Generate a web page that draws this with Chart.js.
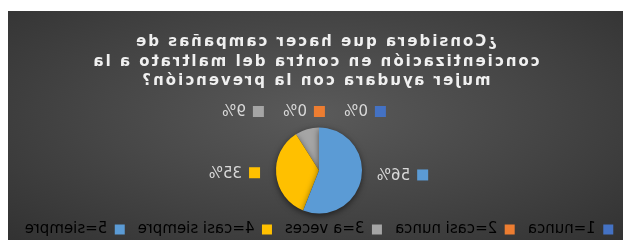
<!DOCTYPE html>
<html>
<head>
<meta charset="utf-8">
<script src="https://cdn.jsdelivr.net/npm/chart.js@4"></script>
<style>
  body { margin: 0; background: #fff; width: 623px; height: 240px; overflow: hidden; }
  #wrap {
    position: absolute; left: 8px; top: 11px; width: 615px; height: 229px; overflow: hidden;
    background: radial-gradient(ellipse at 50% 45%, #5a5a5a 0%, #484848 45%, #323232 100%);
    transform: scaleX(-1);
  }
  #titulo {
    position: absolute; left: 0; right: 0; top: 21px;
    text-align: center; color: #f0f0f0;
    font: bold 15px 'DejaVu Sans', sans-serif; letter-spacing: 2px; line-height: 19.5px;
  }
  #grafico { position: absolute; left: -10px; top: 0; }
</style>
</head>
<body>
<div id="wrap">
  <div id="titulo">¿Considera que hacer campañas de<br>concientización en contra del maltrato a la<br>mujer ayudara con la prevención?</div>
  <canvas id="grafico" width="635" height="236"></canvas>
</div>
<script>
const categorias = ['1=nunca', '2=casi nunca', '3=a veces', '4=casi siempre', '5=siempre'];
const porcentajes = [0, 0, 9, 35, 56];
const colores = ['#4472c4', '#ed7d31', '#a5a5a5', '#ffc000', '#5b9bd5'];

const TXT = '#d9d9d9';
const FONT = "'DejaVu Sans', sans-serif";

// etiquetas con la clave de color, estilo Excel
const etiquetas = {
  id: 'etiquetas',
  afterDatasetsDraw(chart) {
    const ctx = chart.ctx;
    const arcs = chart.getDatasetMeta(0).data;
    const total = porcentajes.reduce((s, v) => s + v, 0);
    const chicas = porcentajes.map((v, i) => i).filter(i => porcentajes[i] < 15);
    ctx.save();
    ctx.font = '15px ' + FONT;
    ctx.textBaseline = 'middle';
    arcs.forEach((a, i) => {
      const { x, y, startAngle, endAngle, outerRadius } = a.getProps(['x', 'y', 'startAngle', 'endAngle', 'outerRadius'], true);
      const txt = Math.round(porcentajes[i] / total * 100) + '%';
      const w = 11 + 7 + ctx.measureText(txt).width;
      let cx, cy;
      const k = chicas.indexOf(i);
      if (k >= 0) {
        cx = x + 76 - (chicas.length - 1 - k) * 61;
        cy = y - outerRadius - 16;
      } else {
        const mid = (startAngle + endAngle) / 2;
        cx = x + Math.cos(mid) * (outerRadius + 42);
        cy = y + Math.sin(mid) * (outerRadius + 25) * 0.35;
      }
      const left = cx - w / 2;
      ctx.fillStyle = colores[i];
      ctx.fillRect(left, cy - 5.5, 11, 11);
      ctx.fillStyle = TXT;
      ctx.textAlign = 'left';
      ctx.fillText(txt, left + 18, cy + 1);
    });
    ctx.restore();
  }
};

const sombra = {
  id: 'sombra',
  beforeDatasetsDraw(chart) {
    const ctx = chart.ctx;
    ctx.save();
    ctx.shadowColor = 'rgba(0,0,0,0.55)';
    ctx.shadowBlur = 6;
    ctx.shadowOffsetY = 2;
  },
  afterDatasetsDraw(chart) {
    chart.ctx.restore();
  }
};

new Chart(document.getElementById('grafico'), {
  type: 'pie',
  data: {
    labels: categorias,
    datasets: [{
      data: porcentajes,
      backgroundColor: colores,
      borderWidth: 0,
      radius: 43
    }]
  },
  options: {
    responsive: false,
    animation: false,
    layout: { padding: { top: 121, right: 7, bottom: 0 } },
    plugins: {
      tooltip: { enabled: false },
      legend: {
        position: 'bottom',
        labels: {
          color: TXT,
          font: { family: FONT, size: 15 },
          boxWidth: 10,
          boxHeight: 10,
          padding: 13,
          generateLabels: chart => categorias.map((c, i) => ({
            text: c, fillStyle: colores[i], strokeStyle: colores[i], lineWidth: 0, index: i
          }))
        }
      }
    }
  },
  plugins: [sombra, etiquetas]
});
</script>
</body>
</html>
